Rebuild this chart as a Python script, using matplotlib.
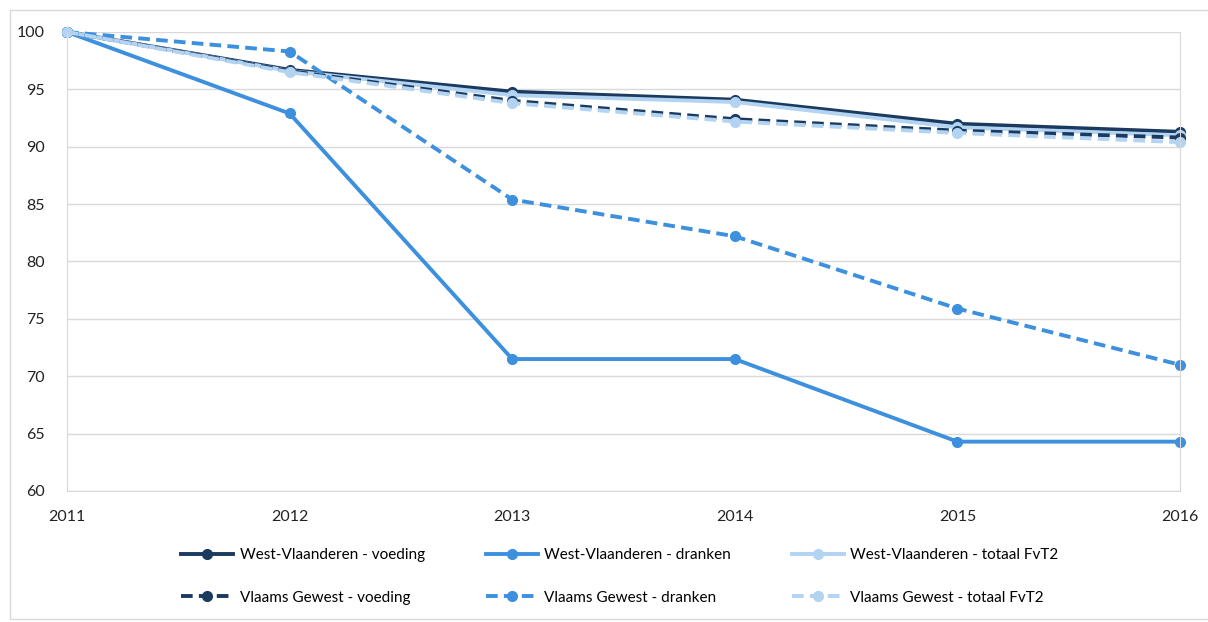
import numpy as np
import matplotlib.pyplot as plt
from matplotlib.patches import Rectangle

plt.rcParams['font.family'] = ['Lato', 'DejaVu Sans']

years = [2011, 2012, 2013, 2014, 2015, 2016]
wv_voeding = [100, 96.7, 94.8, 94.1, 92.0, 91.3]
wv_dranken = [100, 92.9, 71.5, 71.5, 64.3, 64.3]
wv_totaal = [100, 96.6, 94.5, 93.9, 91.7, 91.0]
vg_voeding = [100, 96.6, 94.0, 92.4, 91.4, 90.8]
vg_dranken = [100, 98.3, 85.4, 82.2, 75.9, 71.0]
vg_totaal = [100, 96.5, 93.8, 92.2, 91.2, 90.4]

labels = ["West-Vlaanderen - voeding", "West-Vlaanderen - dranken",
          "West-Vlaanderen - totaal FvT2", "Vlaams Gewest - voeding",
          "Vlaams Gewest - dranken", "Vlaams Gewest - totaal FvT2"]
series = [wv_voeding, wv_dranken, wv_totaal, vg_voeding, vg_dranken, vg_totaal]
dark, mid, light = "#1b3a60", "#3d90de", "#b3d3f2"
colors = [dark, mid, light, dark, mid, light]
styles = ["-", "-", "-", (0, (3, 1.6)), (0, (3, 1.6)), (0, (3, 1.6))]

fig = plt.figure(figsize=(12.08, 6.22), dpi=100)
fig.patches.append(Rectangle((10 / 1208, 0.005), 1.2, 1 - 10 / 622 - 0.005,
                             transform=fig.transFigure, fill=False,
                             edgecolor="#d9d9d9", linewidth=1))
ax = fig.add_axes([67 / 1208, 1 - 491 / 622, (1180 - 67) / 1208, (491 - 32) / 622])

handles = []
for ys, c, ls, lab in zip(series, colors, styles, labels):
    h, = ax.plot(years, ys, color=c, linestyle=ls, linewidth=2.8, marker="o",
                 markersize=7, label=lab, clip_on=False)
    handles.append(h)

ax.set_xlim(2011, 2016)
ax.set_ylim(60, 100)
ax.set_yticks(np.arange(60, 101, 5))
ax.set_xticks(years)
ax.grid(axis="y", color="#d9d9d9", linewidth=1)
ax.set_axisbelow(True)
ax.tick_params(length=0, labelsize=11.5, colors="#222222")
ax.tick_params(axis="x", pad=14)
ax.tick_params(axis="y", pad=16)
ax.spines["top"].set_visible(False)
for s in ["left", "right", "bottom"]:
    ax.spines[s].set_color("#d9d9d9")

# legend fills column-wise, so interleave to get row-wise order
order = [0, 3, 1, 4, 2, 5]
fig.legend([handles[i] for i in order], [labels[i] for i in order],
           loc="center", bbox_to_anchor=(0.513, 0.073), ncol=3, frameon=False,
           fontsize=11, handlelength=3.4, columnspacing=4.0,
           labelspacing=1.85, handletextpad=0.4)

fig.savefig("out.png", dpi=100)
